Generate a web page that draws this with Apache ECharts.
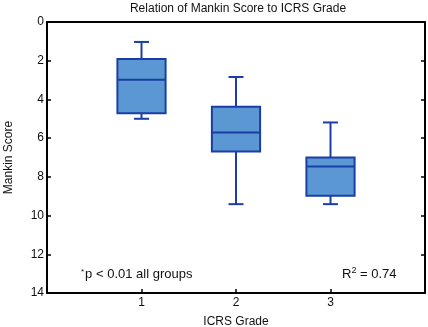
<!DOCTYPE html>
<html><head><meta charset="utf-8">
<script src="https://cdn.jsdelivr.net/npm/echarts@6/dist/echarts.min.js"></script>
<style>html,body{margin:0;padding:0;background:#fff}#c{width:428px;height:327px}</style>
</head><body><div id="c"></div>
<script>
const categories = [1, 2, 3];
const lowWhisker = [1.03, 2.84, 5.19];
const q1 = [1.91, 4.38, 7.0];
const median = [2.98, 5.71, 7.47];
const q3 = [4.71, 6.69, 8.98];
const highWhisker = [5.0, 9.41, 9.41];
const yTicks = [0, 2, 4, 6, 8, 10, 12, 14];
const xTickLabels = ['1', '2', '3'];

const FONT = 'Liberation Sans, Arial, sans-serif';
const fill = '#5b97d3';
const stroke = '#1b3ea6';

const data = categories.map((c, i) => [c, lowWhisker[i], q1[i], median[i], q3[i], highWhisker[i]]);

const chart = echarts.init(document.getElementById('c'), null, {renderer: 'canvas'});
chart.setOption({
  animation: false,
  title: {
    text: 'Relation of Mankin Score to ICRS Grade',
    left: 238, top: 3, padding: 0, textAlign: 'center',
    textStyle: {fontFamily: FONT, fontSize: 12, fontWeight: 'normal', color: '#111'}
  },
  grid: {left: 47, right: 3, top: 22, bottom: 34, containLabel: false, outerBoundsMode: 'none'},
  xAxis: [{
    type: 'value', min: 0, max: 4, interval: 1, position: 'bottom',
    name: 'ICRS Grade', nameLocation: 'middle', nameGap: 23,
    nameTextStyle: {fontFamily: FONT, fontSize: 12, color: '#111'},
    axisLine: {onZero: false, lineStyle: {color: '#000', width: 2}},
    axisTick: {inside: true, length: 4, lineStyle: {color: '#000', width: 1.5},
      customValues: categories},
    axisLabel: {fontFamily: FONT, fontSize: 12, color: '#111', margin: 4,
      customValues: categories,
      formatter: v => xTickLabels[categories.indexOf(v)] || ''},
    splitLine: {show: false}
  }, {
    type: 'value', min: 0, max: 4, position: 'top',
    axisLine: {show: true, onZero: false, lineStyle: {color: '#000', width: 2}},
    axisTick: {show: false}, axisLabel: {show: false}, splitLine: {show: false}
  }],
  yAxis: [{
    type: 'value', min: 0, max: 14, interval: 2, inverse: true, position: 'left',
    name: 'Mankin Score', nameLocation: 'middle', nameGap: 32, nameRotate: 90,
    nameTextStyle: {fontFamily: FONT, fontSize: 12, color: '#111'},
    axisLine: {show: true, onZero: false, lineStyle: {color: '#000', width: 2}},
    axisTick: {inside: true, length: 4, lineStyle: {color: '#000', width: 1.5}},
    axisLabel: {fontFamily: FONT, fontSize: 12, color: '#111', margin: 3,
      formatter: v => yTicks.includes(v) ? String(v) : ''},
    splitLine: {show: false}
  }, {
    type: 'value', min: 0, max: 14, interval: 2, inverse: true, position: 'right',
    axisLine: {show: true, onZero: false, lineStyle: {color: '#000', width: 2}},
    axisTick: {inside: true, length: 4, lineStyle: {color: '#000', width: 1.5}},
    axisLabel: {show: false}, splitLine: {show: false}
  }],
  series: [{
    type: 'custom',
    xAxisIndex: 0, yAxisIndex: 0,
    data: data,
    renderItem: function (params, api) {
      const x = api.value(0);
      const pLow = api.coord([x, api.value(1)]);
      const pQ1 = api.coord([x, api.value(2)]);
      const pMed = api.coord([x, api.value(3)]);
      const pQ3 = api.coord([x, api.value(4)]);
      const pHigh = api.coord([x, api.value(5)]);
      const bw = api.size([0.51, 0])[0];
      const cw = 15;
      const cx = pMed[0];
      const ls = {stroke: stroke, lineWidth: 2};
      return {
        type: 'group',
        children: [
          {type: 'line', shape: {x1: cx, y1: pLow[1], x2: cx, y2: pQ1[1]}, style: ls},
          {type: 'line', shape: {x1: cx, y1: pQ3[1], x2: cx, y2: pHigh[1]}, style: ls},
          {type: 'line', shape: {x1: cx - cw / 2, y1: pLow[1], x2: cx + cw / 2, y2: pLow[1]}, style: ls},
          {type: 'line', shape: {x1: cx - cw / 2, y1: pHigh[1], x2: cx + cw / 2, y2: pHigh[1]}, style: ls},
          {type: 'rect', shape: {x: cx - bw / 2, y: pQ1[1], width: bw, height: pQ3[1] - pQ1[1]},
            style: {fill: fill, stroke: stroke, lineWidth: 2}},
          {type: 'line', shape: {x1: cx - bw / 2, y1: pMed[1], x2: cx + bw / 2, y2: pMed[1]}, style: ls}
        ]
      };
    }
  }],
  graphic: [{
    type: 'text', left: 81, top: 268,
    style: {
      text: '{s|*}p < 0.01 all groups',
      font: '13px ' + FONT, fill: '#111',
      rich: {s: {fontSize: 8, padding: [0, 1, 5, 0], fontFamily: FONT}}
    }
  }, {
    type: 'text', left: 342, top: 266,
    style: {
      text: 'R{s|2} = 0.74',
      font: '13px ' + FONT, fill: '#111',
      rich: {s: {fontSize: 9, padding: [0, 0, 7, 0], fontFamily: FONT}}
    }
  }]
});
</script></body></html>
